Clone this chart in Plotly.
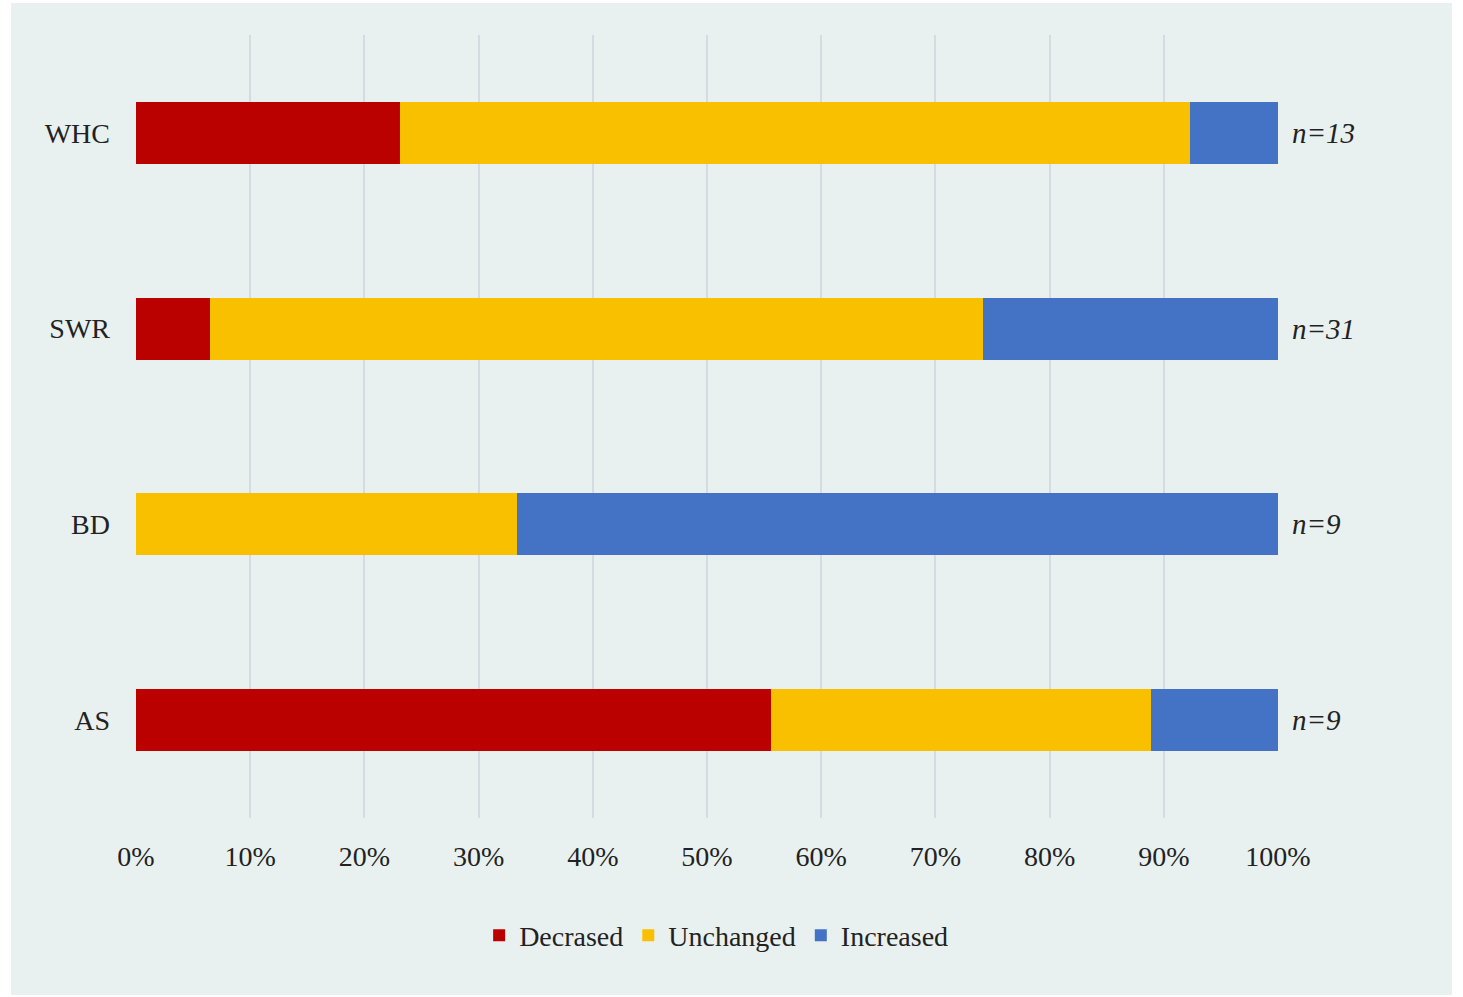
import plotly.graph_objects as go

categories = ["WHC", "SWR", "BD", "AS"]
decreased = [23.08, 6.45, 0.0, 55.56]
unchanged = [69.23, 67.74, 33.33, 33.33]
increased = [7.69, 25.81, 66.67, 11.11]
n_labels = ["n=13", "n=31", "n=9", "n=9"]
x_ticks = list(range(0, 101, 10))
x_tick_labels = [f"{v}%" for v in x_ticks]

FONT = "Times New Roman"
W, H = 1463, 997
L, R, T, B = 136, 185, 35, 179

fig = go.Figure()
series = [("Decrased", decreased, "#BB0000"),
          ("Unchanged", unchanged, "#F9C000"),
          ("Increased", increased, "#4472C4")]
for name, vals, col in series:
    fig.add_trace(go.Bar(
        y=categories, x=vals, name=name, orientation="h",
        marker=dict(color=col, line=dict(width=0)), width=0.316,
    ))

for cat, lab in zip(categories, n_labels):
    fig.add_annotation(x=100, y=cat, xref="x", yref="y", text=f"<i>{lab}</i>",
                       showarrow=False, xanchor="left", xshift=12,
                       font=dict(family=FONT, size=29, color="#222222"))

# panel background
fig.add_shape(type="rect", xref="paper", yref="paper", layer="below",
              x0=(11 - L) / (W - L - R), x1=(1452 - L) / (W - L - R),
              y0=(H - B - 995) / (H - T - B), y1=(H - B - 3) / (H - T - B),
              fillcolor="#E9F1F0", line=dict(width=0))

fig.update_layout(
    width=W, height=H,
    margin=dict(l=L, r=R, t=T, b=B, pad=0),
    barmode="stack",
    paper_bgcolor="white",
    plot_bgcolor="rgba(0,0,0,0)",
    font=dict(family=FONT, size=28, color="#222222"),
    showlegend=True,
    legend=dict(orientation="h", x=0.508, y=-0.150, xanchor="center", yanchor="middle",
                font=dict(family=FONT, size=28, color="#222222"),
                bgcolor="rgba(0,0,0,0)", itemwidth=30, traceorder="normal"),
    xaxis=dict(range=[0, 100], tickvals=x_ticks, ticktext=x_tick_labels,
               showgrid=True, gridcolor="#D6DAE2", gridwidth=2,
               zeroline=False, showline=False, ticks="",
               ticklabelstandoff=19, fixedrange=True),
    yaxis=dict(categoryorder="array", categoryarray=categories[::-1],
               range=[-0.5, 3.5], showgrid=False, zeroline=False, showline=False,
               ticks="", ticklabelstandoff=25),
)

fig.write_html("out.html")
